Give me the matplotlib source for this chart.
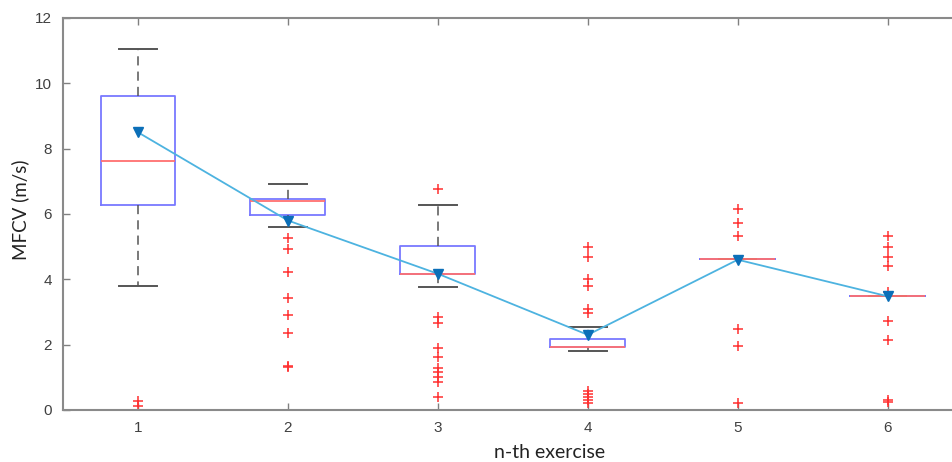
import matplotlib
matplotlib.use("Agg")
import matplotlib.pyplot as plt

# exercise index
exercises = [1, 2, 3, 4, 5, 6]

# box summary values (m/s)
whis_hi = [11.05, 6.92, 6.27, 2.55, 4.62, 3.50]
q3 = [9.60, 6.45, 5.02, 2.17, 4.62, 3.50]
medians = [7.62, 6.40, 4.16, 1.93, 4.62, 3.50]
q1 = [6.27, 5.97, 4.16, 1.93, 4.62, 3.50]
whis_lo = [3.80, 5.60, 3.75, 1.81, 4.62, 3.50]

# mean values (triangles joined by a line)
means = [8.50, 5.80, 4.17, 2.30, 4.60, 3.48]

# outliers per exercise
outliers = [
    [0.27, 0.12],
    [5.26, 4.93, 4.23, 3.44, 2.90, 2.35, 1.36, 1.32],
    [6.76, 2.84, 2.67, 1.89, 1.61, 1.28, 1.17, 1.02, 0.85, 0.41],
    [5.00, 4.69, 4.00, 3.81, 3.08, 2.96, 0.58, 0.49, 0.39, 0.31, 0.22],
    [6.15, 5.71, 5.32, 2.48, 1.97, 0.20],
    [5.33, 5.00, 4.69, 4.42, 3.62, 2.73, 2.14, 0.31, 0.25],
]

stats = []
for i in range(len(exercises)):
    stats.append({
        "whislo": whis_lo[i], "q1": q1[i], "med": medians[i],
        "q3": q3[i], "whishi": whis_hi[i], "fliers": outliers[i],
    })

fig = plt.figure(figsize=(9.52, 4.62), dpi=100)
ax = fig.add_axes([0.0662, 0.1126, 0.945, 0.8485])

ax.bxp(stats, positions=exercises, widths=0.5,
       boxprops=dict(color="#7878ff", linewidth=1.3),
       medianprops=dict(color="#ff7070", linewidth=1.3, zorder=4),
       whiskerprops=dict(color="#555555", linestyle=(0, (6, 4)), linewidth=1.1),
       capprops=dict(color="#555555", linewidth=1.4),
       flierprops=dict(marker="+", markeredgecolor="#ff3030", markersize=7,
                       markeredgewidth=1.1, linestyle="none"),
       capwidths=0.25)

# mean line
ax.plot(exercises, means, color="#4db3e0", linewidth=1.3, zorder=5)
ax.plot(exercises, means, linestyle="none", marker="v", color="#0b6fb8",
        markersize=7, zorder=6)

ax.set_xlim(0.5, 6.5)
ax.set_ylim(0, 12)
ax.set_xticks(exercises)
ax.set_xticklabels([str(e) for e in exercises])
ax.set_yticks([0, 2, 4, 6, 8, 10, 12])

for s in ax.spines.values():
    s.set_color("#8a8a8a")
    s.set_linewidth(1.5)
ax.tick_params(direction="in", length=5, width=1.0, color="#808080",
               top=True, right=True, labelsize=11, labelcolor="#404040", pad=8)
for lab in ax.get_xticklabels() + ax.get_yticklabels():
    lab.set_family("Liberation Sans")

ax.set_xlabel("n-th exercise", family="Lato", fontsize=14, color="#222222")
ax.set_ylabel("MFCV (m/s)", family="Lato", fontsize=13.5, color="#222222")
ax.xaxis.set_label_coords(0.541, -0.086)
ax.yaxis.set_label_coords(-0.038, 0.51)

fig.savefig("out.png", dpi=100)
